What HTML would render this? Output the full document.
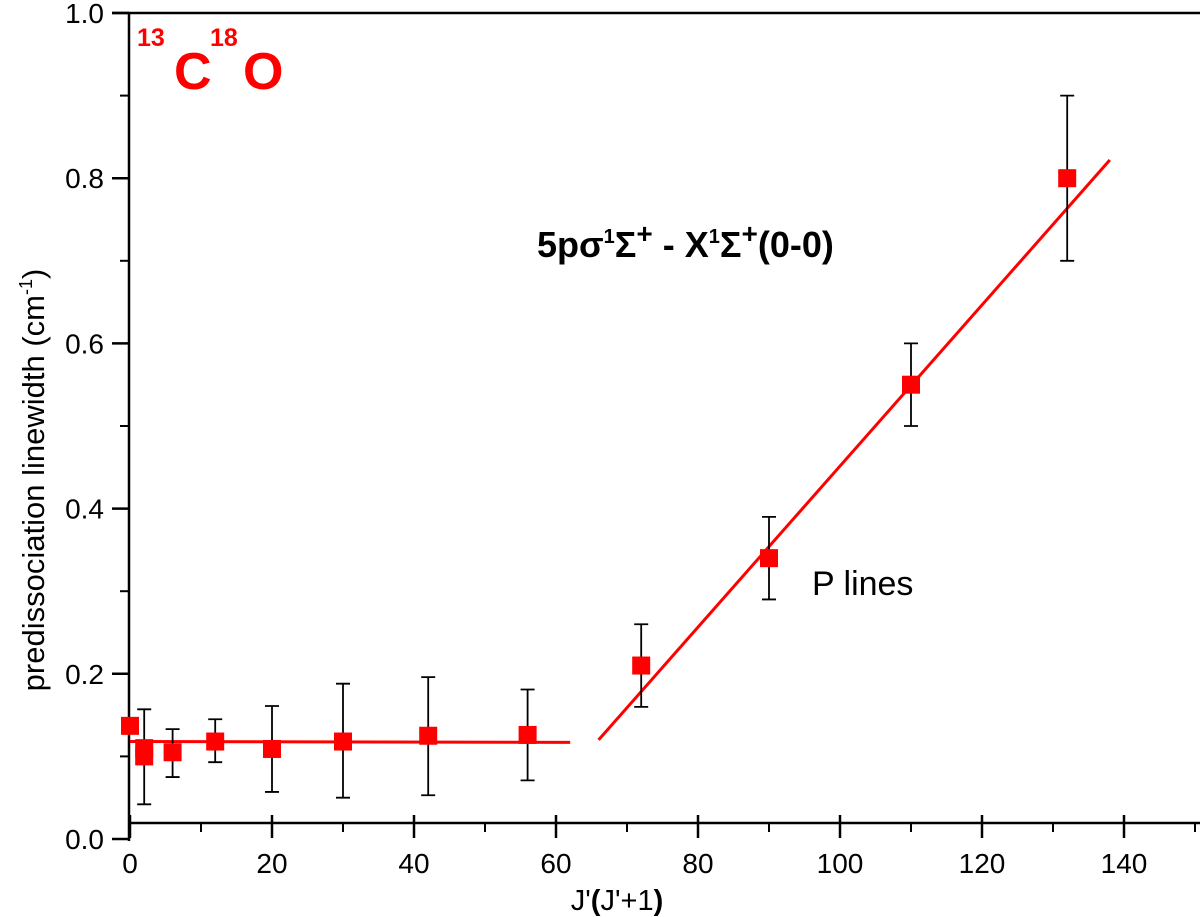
<!DOCTYPE html>
<html><head><meta charset="utf-8"><style>
body{margin:0;background:#fff;position:relative}
svg{display:block;font-family:"Liberation Sans",Arial,sans-serif}
</style></head><body>
<svg id="chart" width="1200" height="917"></svg>
<script>
const xs=[0,2,2,6,12,20,30,42,56,72,90,110,132];
const ys=[0.137,0.100,0.110,0.105,0.118,0.109,0.118,0.125,0.126,0.210,0.340,0.550,0.800];
const errLo=[null,0.042,null,0.075,0.093,0.057,0.050,0.053,0.071,0.160,0.290,0.500,0.700];
const errHi=[null,0.157,null,0.133,0.145,0.161,0.188,0.196,0.181,0.260,0.390,0.600,0.900];
const fit1X=[0,62], fit1Y=[0.118,0.117];
const fit2X=[66,138], fit2Y=[0.120,0.822];
const xTicks=[0,20,40,60,80,100,120,140];
const yTicks=[0.0,0.2,0.4,0.6,0.8,1.0];
const xTickLabels=["0","20","40","60","80","100","120","140"];
const yTickLabels=["0.0","0.2","0.4","0.6","0.8","1.0"];

const X=v=>130+v*7.1;
const Y=v=>839-v*826;
const svg=document.getElementById('chart');
const NS='http://www.w3.org/2000/svg';
function mk(tag,attrs,parent){const e=document.createElementNS(NS,tag);for(const k in attrs)e.setAttribute(k,attrs[k]);(parent||svg).appendChild(e);return e;}

let e;
e=mk('line',{x1:129,y1:13,x2:129,y2:841,stroke:'#000','stroke-width':2.5});


e=mk('line',{x1:128,y1:823,x2:1200,y2:823,stroke:'#000','stroke-width':2.5});


e=mk('line',{x1:112,y1:13,x2:1200,y2:13,stroke:'#000','stroke-width':2.5});



yTicks.forEach((t,i)=>{
  const y=Y(t);
  e=mk('line',{x1:112,y1:y,x2:129,y2:y,stroke:'#000','stroke-width':2.5});
  
  
  e=mk('text',{x:104,y:y+10,'text-anchor':'end','font-size':28});
  e.textContent=yTickLabels[i];
  
  
  if(i<yTicks.length-1){
    const ym=Y(t+0.1);
    e=mk('line',{x1:120,y1:ym,x2:129,y2:ym,stroke:'#000','stroke-width':2});
    
    
  }
});
xTicks.forEach((t,i)=>{
  const x=X(t);
  e=mk('line',{x1:x,y1:815,x2:x,y2:838,stroke:'#000','stroke-width':2.5});
  
  
  e=mk('text',{x:x,y:873,'text-anchor':'middle','font-size':28});
  e.textContent=xTickLabels[i];
  
  
  const xm=X(t+10);
  e=mk('line',{x1:xm,y1:823,x2:xm,y2:832,stroke:'#000','stroke-width':2});
  
  
});

e=mk('line',{x1:X(fit1X[0]),y1:Y(fit1Y[0]),x2:X(fit1X[1]),y2:Y(fit1Y[1]),stroke:'#f00','stroke-width':3});


e=mk('line',{x1:X(fit2X[0]),y1:Y(fit2Y[0]),x2:X(fit2X[1]),y2:Y(fit2Y[1]),stroke:'#f00','stroke-width':3});



xs.forEach((xv,i)=>{
  const x=X(xv);
  if(errLo[i]!==null){
    const y1=Y(errLo[i]),y2=Y(errHi[i]);
    e=mk('path',{d:`M${x},${y1}V${y2}M${x-7},${y1}H${x+7}M${x-7},${y2}H${x+7}`,stroke:'#000','stroke-width':1.8,fill:'none'});
    
    
  }
  e=mk('rect',{x:x-9,y:Y(ys[i])-9,width:18,height:18,fill:'#f00'});
  
  
});
</script>
<svg style="position:absolute;left:0;top:0" width="1200" height="917">
<text x="137" y="46" fill="#f00" font-weight="bold" font-size="25">13</text>
<text x="174" y="89" fill="#f00" font-weight="bold" font-size="52">C</text>
<text x="210" y="46" fill="#f00" font-weight="bold" font-size="25">18</text>
<text x="243" y="89" fill="#f00" font-weight="bold" font-size="52">O</text>
<text x="537" y="257" font-weight="bold" font-size="36">5pσ<tspan font-size="20" dy="-14">1</tspan><tspan dy="14">Σ</tspan><tspan font-size="28" dy="-14">+</tspan><tspan dy="14"> - X</tspan><tspan font-size="20" dy="-14">1</tspan><tspan dy="14">Σ</tspan><tspan font-size="28" dy="-14">+</tspan><tspan dy="14">(0-0)</tspan></text>
<text x="812" y="595" font-size="34">P lines</text>
<text x="617" y="910" text-anchor="middle" font-size="29">J'<tspan font-weight="bold">(</tspan>J'+1<tspan font-weight="bold">)</tspan></text>
<text transform="translate(44,480) rotate(-90)" text-anchor="middle" font-size="31">predissociation linewidth (cm<tspan font-size="18" dy="-12">-1</tspan><tspan dy="12">)</tspan></text>
</svg>
</body></html>
